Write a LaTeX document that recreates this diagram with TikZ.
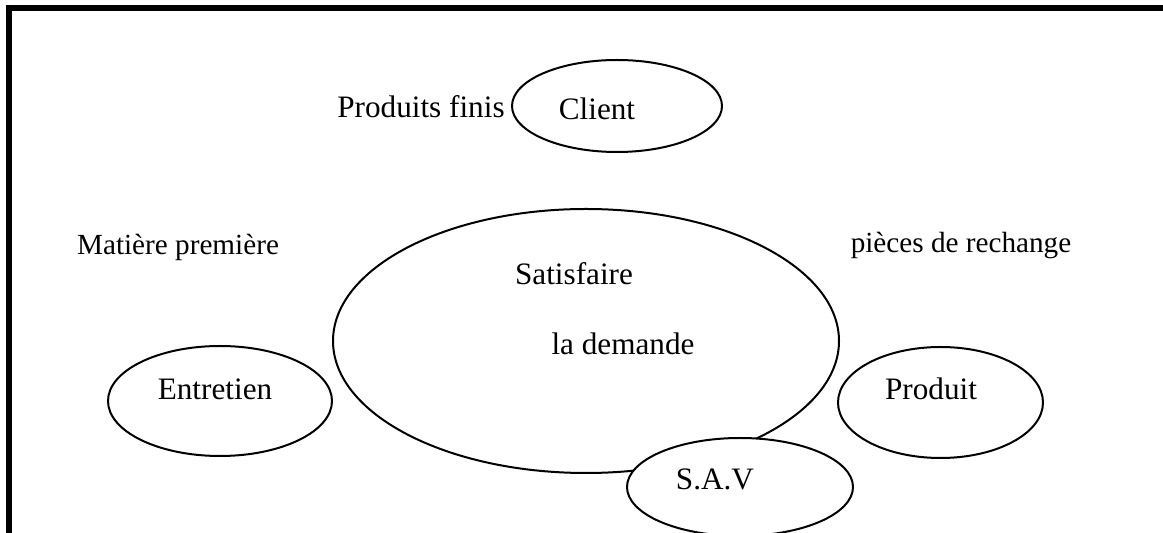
\documentclass[tikz,border=0pt]{standalone}
\usepackage{fontspec}
\setmainfont{Liberation Serif}
\usetikzlibrary{shapes.geometric}

\begin{document}
\begin{tikzpicture}[
  x=0.5pt, y=-0.5pt,
  %% ellipses du schéma
  oval/.style={
    ellipse, draw=black, line width=1pt,
    fill=white, inner sep=0pt
  },
  %% textes dans et autour des ellipses
  lbl/.style={font=\fontsize{15.6}{18}\selectfont, inner sep=0pt, anchor=base},
  %% textes des flux (un peu plus petits)
  flux/.style={font=\fontsize{14.6}{17}\selectfont, inner sep=0pt, anchor=base}
]
\useasboundingbox (0,0) rectangle (1163,533);
\clip (0,0) rectangle (1163,533);

%% ================================================================
%% CADRE (bords gauche et haut)
%% ================================================================
\draw[line width=3pt, line join=miter] (9,545) -- (9,8) -- (1175,8);

%% ================================================================
%% ELLIPSE CENTRALE
%% ================================================================
\node[oval, minimum width=253pt, minimum height=132pt] (demande) at (586,341) {};
\node[lbl] (satisfaire) at (574,285) {Satisfaire};
\node[lbl] (lademande)  at (623,355) {la demande};

%% ================================================================
%% CLIENT
%% ================================================================
\node[oval, minimum width=105pt, minimum height=46pt] (client) at (617,106) {};
\node[lbl] (clientlbl) at (597,120) {Client};
\node[lbl] (finis)     at (421,118) {Produits finis};

%% ================================================================
%% ENTRETIEN / PRODUIT / S.A.V
%% ================================================================
\node[oval, minimum width=112pt, minimum height=55pt] (entretien) at (220,401) {};
\node[lbl] (entretienlbl) at (215,400) {Entretien};

\node[oval, minimum width=102.5pt, minimum height=55.5pt] (produit) at (940.5,402.5) {};
\node[lbl] (produitlbl) at (931,400) {Produit};

%% le S.A.V passe devant l'ellipse centrale
\node[oval, minimum width=113pt, minimum height=49pt] (sav) at (740,487) {};
\node[lbl] (savlbl) at (715,490) {S.A.V};

%% ================================================================
%% FLUX
%% ================================================================
\node[flux] (matiere) at (178,255) {Matière première};
\node[flux] (pieces)  at (961,253) {pièces de rechange};

\end{tikzpicture}
\end{document}
